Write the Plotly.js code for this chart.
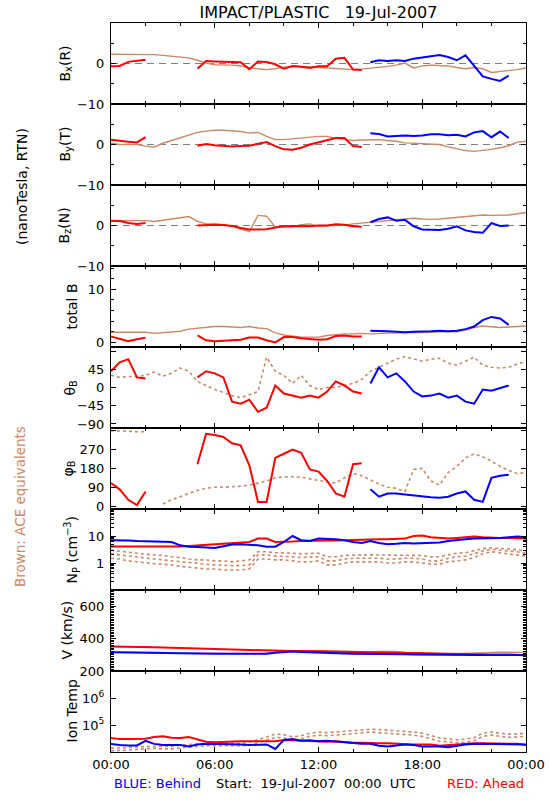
<!DOCTYPE html>
<html><head><meta charset="utf-8">
<script src="https://cdn.plot.ly/plotly-3.0.1.min.js"></script>
<style>html,body{margin:0;padding:0;background:#fff}</style>
</head><body><div id="chart" style="width:550px;height:800px"></div>
<script>
const _ = null;
// time in hours since 19-Jul-2007 00:00 UTC
const hours = [0,0.5,1,1.5,2,2.5,3,3.5,4,4.5,5,5.5,6,6.5,7,7.5,8,8.5,9,9.5,10,10.5,11,11.5,12,12.5,13,13.5,14,14.5,15,15.5,16,16.5,17,17.5,18,18.5,19,19.5,20,20.5,21,21.5,22,22.5,23,23.5,24];
const xTickVals = [0,6,12,18,24];
const xTickText = ['00:00','06:00','12:00','18:00','00:00'];

// Bx (R), nT
const bxAce  = [2.3,2.3,2.3,2.2,2.2,2.2,2.0,1.8,1.7,1.4, 0.8,0.1,-0.3,-0.3,-0.4,-0.6,-1.1,-1.3,-1.5,-1.3, -0.9,-0.7,-0.7,-0.8,-1.0,-1.1,-1.2,-1.3,-1.5,-1.4, -1.2,-0.9,-0.7,-0.4,0.1,-1.1,-0.6,-0.4,-0.5,-0.6, -1.0,-1.3,-1.0,-1.3,-2.2,-2.0,-1.8,-1.5,-1.1];
const bxRed  = [-0.7,-0.6,0.4,0.6,0.9, _,_,_,_,_, -1.3,0.6,0.5,0.4,0.4,0.3,-1.4,0.5,0.4,-0.2, -1.3,-0.6,-0.8,-1.1,-0.7,-0.7,1.2,1.4,-1.5,-1.6, _,_,_,_,_,_,_,_,_,_,_,_,_,_,_,_,_,_,_];
const bxBlue = [_,_,_,_,_,_,_,_,_,_,_,_,_,_,_,_,_,_,_,_,_,_,_,_,_,_,_,_,_,_, 0.3,0.8,0.6,0.8,0.6,1.2,1.5,1.8,2.1,1.6,0.8,2.0,-0.5,-3.2,-3.8,-4.3,-3.0, _,_];
// By (T), nT
const byAce  = [0.3,0,0,0,-0.4,-0.6,0.3,1.0,1.6,2.4, 3.0,3.3,3.5,3.5,3.4,3.2,2.8,3.0,2.0,1.2, 1.2,1.4,1.6,1.8,2.0,2.0,1.5,1.2,1.0,1.1, 1.2,1.2,1.0,0.8,0.4,0.3,0.3,0.2,0.0,-0.6, -1.0,-1.5,-1.7,-1.5,-1.2,-0.8,-0.3,0.6,0.8];
const byRed  = [1.2,0.9,0.7,0.5,1.8, _,_,_,_,_, -0.3,0.1,-0.2,-0.3,-0.5,-0.4,-0.3,0.2,0.6,-0.4, -1.2,-1.3,-0.8,0,0.5,1.0,1.6,1.6,-0.4,-0.6, _,_,_,_,_,_,_,_,_,_,_,_,_,_,_,_,_,_,_];
const byBlue = [_,_,_,_,_,_,_,_,_,_,_,_,_,_,_,_,_,_,_,_,_,_,_,_,_,_,_,_,_,_, 2.8,2.6,2.0,2.1,2.2,2.1,2.2,2.5,2.5,2.3,2.4,2.0,3.0,3.3,1.8,3.2,1.6, _,_];
// Bz (N), nT
const bzAce  = [1.2,1.2,1.2,1.2,1.2,1.0,1.3,1.6,2.0,2.2, 1.0,0.4,0.4,0.2,-0.2,-0.8,-1.5,2.5,2.3,-0.4, -0.4,-0.3,0.2,0.4,-0.2,-0.1,0,0.1,0.4,0.6, 0.8,0.9,1.1,1.3,1.6,1.8,1.6,1.5,1.6,1.8, 2.0,2.2,2.5,2.6,2.5,2.5,2.6,2.9,3.2];
const bzRed  = [1.2,1.1,0.6,0.4,0.6, _,_,_,_,_, 0.0,0.1,0.2,0.1,-0.1,-0.6,-1.0,-1.0,-0.9,-0.5, -0.2,-0.1,-0.2,-0.2,0.0,0.0,0.3,0.2,-0.2,-0.3, _,_,_,_,_,_,_,_,_,_,_,_,_,_,_,_,_,_,_];
const bzBlue = [_,_,_,_,_,_,_,_,_,_,_,_,_,_,_,_,_,_,_,_,_,_,_,_,_,_,_,_,_,_, 0.8,1.6,2.0,1.2,1.4,-0.2,-1.0,-1.1,-1.1,-0.8,-0.2,-1.2,-1.6,-1.8,0.6,-0.1,0.0, _,_];
// total B, nT
const btAce  = [1.9,1.9,1.9,1.9,1.9,1.7,1.8,1.9,2.1,2.5, 2.7,2.9,3.0,3.0,2.9,2.8,3.0,2.7,2.6,1.8, 1.4,1.2,1.0,1.0,1.0,1.3,1.5,1.6,1.6,1.7, 1.6,1.7,1.7,1.8,1.8,1.8,1.9,1.9,2.0,2.0, 2.0,2.3,2.8,3.1,2.9,2.8,2.9,3.0,3.1];
const btRed  = [1.1,0.6,0.2,0.6,0.9, _,_,_,_,_, 1.3,0.4,0.2,0.3,0.4,0.5,0.9,0.9,0.4,0.0, 1.0,1.0,0.8,0.7,0.5,0.6,1.2,1.3,1.1,1.1, _,_,_,_,_,_,_,_,_,_,_,_,_,_,_,_,_,_,_];
const btBlue = [_,_,_,_,_,_,_,_,_,_,_,_,_,_,_,_,_,_,_,_,_,_,_,_,_,_,_,_,_,_, 2.2,2.2,2.1,2.0,1.9,2.0,2.0,2.1,2.2,2.1,2.2,2.5,3.0,4.2,4.8,4.5,3.3, _,_];
// theta_B, degrees
const thAce  = [30,25,27,27,30,38,28,35,48,40, 15,5,-5,-12,-20,-25,-18,-10,75,40, 30,10,30,5,-5,0,0,5,10,20, 40,50,60,70,76,70,65,70,72,60, 55,65,75,55,50,48,50,58,65];
const thRed  = [40,62,70,25,22, _,_,_,_,_, 25,40,35,25,-35,-40,-30,-60,-50,5, -15,-20,-25,-20,-25,-10,15,5,-10,-15, _,_,_,_,_,_,_,_,_,_,_,_,_,_,_,_,_,_,_];
const thBlue = [_,_,_,_,_,_,_,_,_,_,_,_,_,_,_,_,_,_,_,_,_,_,_,_,_,_,_,_,_,_, 10,50,25,35,15,-10,-22,-20,-15,-25,-20,-35,-40,-5,-8,-2,5, _,_];
// phi_B, degrees
const phAce  = [360,360,358,355,355,_,10,30,45,60, 75,85,90,90,92,95,100,110,120,135, 140,140,138,130,122,115,110,135,155,145, 125,105,90,85,70,175,180,120,100,160, 190,230,250,235,215,190,170,155,160];
const phRed  = [110,80,30,5,70, _,_,_,_,_, 200,345,340,330,300,290,195,20,20,230, 250,270,255,175,165,120,60,45,200,205, _,_,_,_,_,_,_,_,_,_,_,_,_,_,_,_,_,_,_];
const phBlue = [_,_,_,_,_,_,_,_,_,_,_,_,_,_,_,_,_,_,_,_,_,_,_,_,_,_,_,_,_,_, 80,45,60,60,55,50,45,42,40,45,60,70,30,20,135,145,150, _,_];
// proton density, cm^-3
const npAce   = [2.2,2.0,1.8,1.6,1.5,1.4,1.3,1.2,1.1,1.0, 0.95,0.9,0.85,0.8,0.8,0.8,0.85,2.0,2.0,1.8, 1.8,1.7,1.6,1.6,1.7,1.2,1.2,1.4,1.5,1.5, 1.5,1.5,1.4,1.4,1.5,1.5,1.4,1.2,1.2,1.5, 1.7,1.8,2.2,2.8,3.2,3.0,2.8,2.6,2.3];
const npAceHi = [3.0,2.8,2.6,2.3,2.1,2.0,1.9,1.7,1.6,1.4, 1.3,1.3,1.2,1.2,1.1,1.2,1.3,2.6,2.6,2.4, 2.4,2.3,2.2,2.2,2.3,1.7,1.7,1.9,2.0,2.0, 2.0,2.0,1.9,1.9,2.0,2.0,1.9,1.7,1.7,2.0, 2.3,2.4,2.8,3.4,3.6,3.5,3.3,3.1,2.8];
const npAceLo = [1.5,1.4,1.2,1.1,1.0,0.95,0.9,0.85,0.75,0.7, 0.65,0.6,0.6,0.55,0.55,0.55,0.6,1.4,1.4,1.3, 1.3,1.2,1.1,1.1,1.2,0.85,0.85,1.0,1.1,1.1, 1.1,1.1,1.0,1.0,1.1,1.1,1.0,0.9,0.9,1.1, 1.2,1.3,1.6,2.2,2.6,2.4,2.2,2.0,1.8];
const npRed   = [4.1,4.1,4.1,4.1,4.1,4.0,4.0,4.0,4.1,4.3, 4.5,4.8,5.0,5.3,5.5,5.5,6.0,8.0,8.0,6.0, 6.0,6.2,6.5,6.7,6.7,6.8,6.8,7.0,7.0,7.0, 7.2,7.5,7.5,8.0,8.0,10.0,10.5,9.0,8.5,8.0, 8.5,9.0,9.5,9.0,8.5,8.5,8.5,8.0,8.0];
const npBlue  = [7.0,7.0,6.8,6.5,6.3,6.0,6.0,6.0,4.5,4.0, 3.9,3.8,3.6,4.2,4.8,5.0,4.8,4.5,4.0,4.0, 6.0,10.0,7.0,6.5,8.0,8.0,7.5,7.0,6.0,5.5, 6.5,5.5,5.0,5.2,5.5,5.3,5.5,5.6,5.8,6.5, 6.8,7.5,8.0,8.0,8.5,8.5,9.0,9.5,9.0];
// bulk speed, km/s
const vAce  = [318,318,317,316,318,316,315,312,311,312, 312,310,310,308,306,305,304,306,310,318, 320,322,324,326,325,324,322,322,320,318, 318,320,322,320,314,312,309,306,304,305, 307,310,312,314,315,316,316,316,315];
const vRed  = [352,350,349,348,347,346,345,344,343,342, 341,338,336,334,333,331,329,327,327,326, 324,323,323,322,320,319,318,317,316,315, 314,313,312,311,310,309,307,305,304,303, 303,303,302,302,302,302,302,301,295];
const vBlue = [315,314,315,314,313,312,311,309,306,306, 307,307,306,306,306,306,306,305,306,312, 318,320,318,316,312,308,310,308,307,307, 306,306,305,304,303,302,301,300,300,300, 300,299,299,299,298,298,298,298,298];
// ion temperature, K
const tAce   = [11000,11500,12000,12500,13000,13500,13000,13000,14000,15000, 16000,17000,17000,17500,17000,17000,18000,22000,28000,35000, 33000,27000,30000,38000,42000,40000,42000,45000,46000,50000, 55000,52000,50000,47000,45000,42000,38000,30000,25000,24000, 22000,23000,26000,38000,42000,38000,35000,36000,38000];
const tAceHi = [14000,14000,15000,15500,16000,17000,16500,16500,18000,19000, 20000,21000,21000,22000,21000,21000,23000,28000,36000,46000, 44000,36000,40000,50000,55000,52000,55000,58000,60000,65000, 70000,68000,65000,60000,58000,55000,50000,40000,33000,31000, 28000,30000,34000,50000,55000,50000,46000,47000,50000];
const tRed   = [33000,30000,30000,30000,31000,36000,38000,34000,33000,36000, 30000,24000,23000,24000,24000,25000,25000,25000,24000,25000, 28000,27000,26000,25000,24000,24000,25000,23000,22000,22000, 21000,21000,21000,20000,20000,19000,19000,19000,17000,18000, 19000,21000,21000,21000,21000,21000,20000,20000,18000];
const tBlue  = [20000,18000,17500,17500,26000,20000,18000,18000,18000,16000, 19000,20000,20000,19000,19000,19000,18000,19000,19000,13000, 28000,30000,26000,27000,25000,26000,24000,22000,21000,20000, 20000,17000,16000,17000,19000,18000,16000,16000,16000,15000, 17000,19000,20000,20000,19000,19000,20000,20000,19000];

const RED = '#ff0000', BLUE = '#0000ff', BROWN = '#cc8866';
const FONT = 'DejaVu Sans, Verdana, sans-serif';

const panels = [
  {ace:[bxAce], red:bxRed, blue:bxBlue, aceDot:false},
  {ace:[byAce], red:byRed, blue:byBlue, aceDot:false},
  {ace:[bzAce], red:bzRed, blue:bzBlue, aceDot:false},
  {ace:[btAce], red:btRed, blue:btBlue, aceDot:false},
  {ace:[thAce], red:thRed, blue:thBlue, aceDot:true},
  {ace:[phAce], red:phRed, blue:phBlue, aceDot:true},
  {ace:[npAceHi, npAce, npAceLo], red:npRed, blue:npBlue, aceDot:true},
  {ace:[vAce], red:vRed, blue:vBlue, aceDot:false},
  {ace:[tAceHi, tAce], red:tRed, blue:tBlue, aceDot:true}
];

const yCfg = [
  {range:[-10,10], tickvals:[-10,0], ticktext:['\u221210','0'], minor:[-5,5], zero:true},
  {range:[-10,10], tickvals:[-10,0], ticktext:['\u221210','0'], minor:[-5,5], zero:true},
  {range:[-10,10], tickvals:[-10,0], ticktext:['\u221210','0'], minor:[-5,5], zero:true},
  {range:[-0.87,14.4], tickvals:[0,10], ticktext:['0','10'], minor:[2,4,6,8,12,14]},
  {range:[-100,100], tickvals:[-90,-45,0,45], ticktext:['\u221290','\u221245','0','45'], minor:[90], minorLen:5},
  {range:[-14,373], tickvals:[0,90,180,270], ticktext:['0','90','180','270'], minor:[360], minorLen:5},
  {type:'log', range:[-1,2], tickvals:[1,10], ticktext:['1','10'],
   minor:[0.2,0.3,0.4,0.5,0.6,0.7,0.8,0.9,2,3,4,5,6,7,8,9,20,30,40,50,60,70,80,90]},
  {range:[200,700], tickvals:[200,400,600], ticktext:['200','400','600'], minorDtick:10},
  {type:'log', range:[4,7], tickvals:[1e5,1e6], ticktext:['10<sup>5</sup>','10<sup>6</sup>']}
];

const yTitles = [
  {text:'B<sub>x</sub>(R)', px:65},
  {text:'B<sub>y</sub>(T)', px:65},
  {text:'B<sub>z</sub>(N)', px:65},
  {text:'total B', px:72},
  {text:'\u03b8<sub>B</sub>', px:70},
  {text:'\u03c6<sub>B</sub>', px:68},
  {text:'N<sub>P</sub> (cm<sup>\u22123</sup>)', px:72},
  {text:'V (km/s)', px:66},
  {text:'Ion Temp', px:71}
];

const L = 111, R = 526, TOP = 23, BOT = 752, W = 550, H = 800;
const PW = R - L, PH = BOT - TOP;
const px2x = p => (p - L) / PW;
const py2y = p => 1 - (p - TOP) / PH;

const traces = [];
const layout = {
  width: W, height: H, showlegend: false,
  paper_bgcolor: '#fff', plot_bgcolor: '#fff',
  margin: {l: L, r: W - R, t: TOP, b: H - BOT, pad: 0},
  font: {family: FONT, size: 12, color: '#000'},
  title: {text: 'IMPACT/PLASTIC\u00a0\u00a0\u00a019-Jul-2007', font: {family: FONT, size: 16, color: '#000'},
          x: 0.5, xref: 'paper', xanchor: 'center', y: 1 - 12 / H, yref: 'container', yanchor: 'middle'},
  shapes: [], annotations: []
};

const n = panels.length;
panels.forEach((p, i) => {
  const sfx = i === 0 ? '' : String(i + 1);
  const xa = 'x' + sfx, ya = 'y' + sfx;
  p.ace.forEach(arr => traces.push({x: hours, y: arr, xaxis: xa, yaxis: ya, type: 'scatter', mode: 'lines',
    line: {color: BROWN, width: p.aceDot ? 1.6 : 1.4, dash: p.aceDot ? 'dot' : 'solid'}, connectgaps: false, hoverinfo: 'skip'}));
  traces.push({x: hours, y: p.red, xaxis: xa, yaxis: ya, type: 'scatter', mode: 'lines',
    line: {color: RED, width: 2}, connectgaps: false, hoverinfo: 'skip'});
  traces.push({x: hours, y: p.blue, xaxis: xa, yaxis: ya, type: 'scatter', mode: 'lines',
    line: {color: BLUE, width: 2}, connectgaps: false, hoverinfo: 'skip'});

  const top = 1 - i / n, bot = 1 - (i + 1) / n;
  const last = i === n - 1;
  layout['xaxis' + sfx] = {
    domain: [0, 1], anchor: ya, range: [0, 24], tickmode: 'array', tickvals: xTickVals,
    ticktext: last ? xTickText : undefined,
    showticklabels: last, ticks: 'inside', ticklen: 5, tickcolor: '#000', mirror: 'ticks',
    showline: true, linecolor: '#000', linewidth: 1, showgrid: false, zeroline: false,
    tickfont: {family: FONT, size: 13, color: '#000'},
    minor: {ticks: 'inside', ticklen: 3, tickcolor: '#000', tickmode: 'linear', tick0: 0, dtick: 2, showgrid: false}
  };
  const c = yCfg[i];
  const yax = {
    domain: [bot, top], anchor: xa, range: c.range, type: c.type || 'linear',
    tickmode: 'array', tickvals: c.tickvals, ticktext: c.ticktext,
    ticks: 'inside', ticklen: 5, tickcolor: '#000', mirror: 'ticks',
    showline: true, linecolor: '#000', linewidth: 1, showgrid: false, zeroline: false,
    tickfont: {family: FONT, size: 13, color: '#000'}, ticklabelstandoff: 3
  };
  if (c.minor) yax.minor = {ticks: 'inside', ticklen: c.minorLen || 3, tickcolor: '#000', tickmode: 'array', tickvals: c.minor, showgrid: false};
  if (c.minorDtick) yax.minor = {ticks: 'inside', ticklen: 3, tickcolor: '#000', tickmode: 'linear', tick0: 200, dtick: c.minorDtick, showgrid: false};
  layout['yaxis' + sfx] = yax;

  if (c.zero) layout.shapes.push({type: 'line', xref: xa + ' domain', yref: ya, x0: 0, x1: 1, y0: 0, y1: 0,
    line: {color: '#808080', width: 1.2, dash: '7px,5px'}, layer: 'below'});

  layout.annotations.push({text: yTitles[i].text, xref: 'paper', yref: 'paper', x: px2x(yTitles[i].px), y: (top + bot) / 2,
    xanchor: 'center', yanchor: 'middle', textangle: -90, showarrow: false, font: {family: FONT, size: 14, color: '#000'}});
});

layout.annotations.push(
  {text: '(nanoTesla, RTN)', xref: 'paper', yref: 'paper', x: px2x(22), y: py2y(187), xanchor: 'center', yanchor: 'middle',
   textangle: -90, showarrow: false, font: {family: FONT, size: 14, color: '#000'}},
  {text: 'Brown: ACE equivalents', xref: 'paper', yref: 'paper', x: px2x(20), y: py2y(507), xanchor: 'center', yanchor: 'middle',
   textangle: -90, showarrow: false, font: {family: FONT, size: 13.5, color: BROWN}},
  {text: 'BLUE: Behind', xref: 'paper', yref: 'paper', x: px2x(112), y: py2y(783), xanchor: 'left', yanchor: 'middle',
   showarrow: false, font: {family: FONT, size: 13, color: BLUE}},
  {text: 'Start:\u00a0\u00a019-Jul-2007\u00a0\u00a000:00\u00a0\u00a0UTC', xref: 'paper', yref: 'paper', x: px2x(214), y: py2y(783), xanchor: 'left', yanchor: 'middle',
   showarrow: false, font: {family: FONT, size: 13, color: '#000'}},
  {text: 'RED: Ahead', xref: 'paper', yref: 'paper', x: px2x(526), y: py2y(783), xanchor: 'right', yanchor: 'middle',
   showarrow: false, font: {family: FONT, size: 13, color: RED}}
);

Plotly.newPlot('chart', traces, layout, {staticPlot: true, displayModeBar: false}).then(gd => {
  // drop empty placeholder text nodes (unused axis titles)
  gd.querySelectorAll('text').forEach(t => { if (!t.textContent.trim()) t.remove(); });
});
</script>
</body></html>
